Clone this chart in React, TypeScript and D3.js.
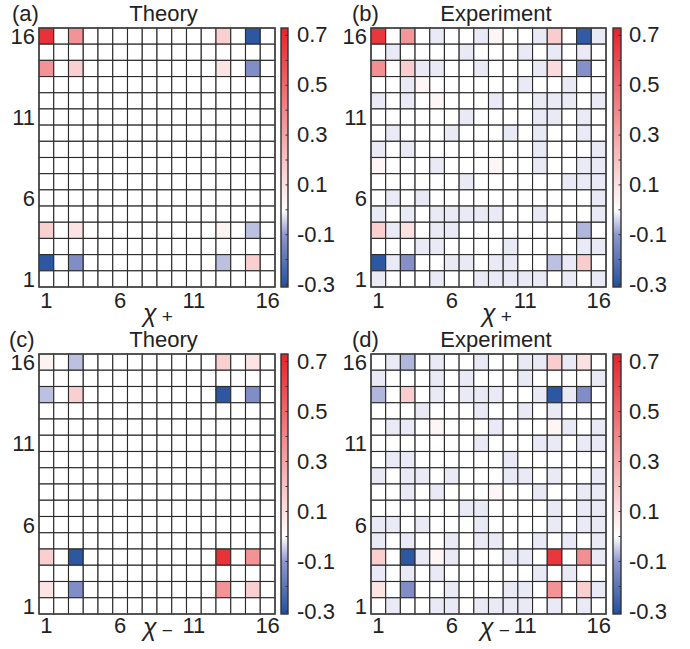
import React from "react";
import * as d3 from "d3";

// tick labels
const axisTicks = [1, 6, 11, 16];
const cbLabels = [0.7, 0.5, 0.3, 0.1, -0.1, -0.3];
const cbMinor = [-3, -2, -1, 0, 1, 2, 3, 4, 5, 6, 7].map((k) => k / 10);

// colour map (value -> colour)
const cbDomain = [-0.31, 0.73];
const colorStops = [-0.31, -0.1, 0, 0.73];
const colorRange = ["#24509e", "#8f97cd", "#ffffff", "#e6232a"];

// theory: [column, row, value], every other cell is 0
const theoryPlus = [
  [1, 16, 0.68], [3, 16, 0.36], [13, 16, 0.16], [15, 16, -0.29],
  [1, 14, 0.36], [3, 14, 0.16], [13, 14, 0.09], [15, 14, -0.13],
  [1, 4, 0.16], [3, 4, 0.09], [13, 4, 0.04], [15, 4, -0.06],
  [1, 2, -0.29], [3, 2, -0.13], [13, 2, -0.06], [15, 2, 0.16],
];

const theoryMinus = [
  [1, 16, 0.04], [3, 16, -0.06], [13, 16, 0.16], [15, 16, 0.09],
  [1, 14, -0.06], [3, 14, 0.16], [13, 14, -0.29], [15, 14, -0.13],
  [1, 4, 0.16], [3, 4, -0.29], [13, 4, 0.68], [15, 4, 0.36],
  [1, 2, 0.09], [3, 2, -0.13], [13, 2, 0.36], [15, 2, 0.16],
];

// experiment: rows from 16 (top) down to 1, columns 1..16
const expPlus = [
  [0.66, 0, 0.35, 0, -0.02, 0, 0, -0.02, 0.03, 0, 0, -0.02, 0.17, 0, -0.28, -0.02],
  [0, -0.02, 0, 0, 0, 0, -0.02, 0, 0, 0, -0.02, 0, -0.02, 0, -0.02, 0],
  [0.37, 0, 0.17, -0.02, -0.02, 0, 0, -0.02, 0, 0, 0, -0.02, 0.12, 0, -0.12, 0],
  [0, 0, -0.02, 0.03, 0, 0, 0, 0, 0, 0, -0.02, 0, 0, -0.02, 0, 0],
  [-0.02, 0, -0.02, 0, 0.03, 0, 0, 0, -0.02, 0, 0, -0.02, -0.02, -0.02, 0, -0.02],
  [0, 0, 0, 0, 0, 0, -0.02, 0, 0, 0, 0, -0.02, -0.02, 0, -0.02, 0],
  [0, -0.02, 0, 0, 0, -0.02, 0, 0, 0, -0.02, 0, -0.02, 0, 0, -0.02, 0],
  [-0.02, 0, -0.02, 0, 0, 0, 0, 0, 0, 0, 0, -0.02, 0, 0, 0, -0.02],
  [0.03, 0, 0, 0, -0.02, 0, 0, 0, 0.03, 0, 0, -0.02, 0, 0, -0.02, -0.02],
  [0, 0, 0, 0, 0, 0, -0.02, 0, 0, 0, 0, 0, 0, -0.02, -0.02, -0.02],
  [0, -0.02, 0, -0.02, 0, 0, 0, 0, 0, 0, 0, 0, 0, 0, 0, -0.02],
  [-0.02, 0, -0.02, 0, -0.02, -0.02, -0.02, -0.02, -0.02, 0, 0, -0.02, 0, 0, 0, -0.02],
  [0.16, -0.02, 0.1, 0, -0.02, -0.02, 0, 0, 0, 0, 0, 0, 0, 0, -0.07, 0],
  [0, 0, 0, -0.02, -0.02, 0, 0, 0, 0, -0.02, 0, 0, 0, 0, -0.02, -0.02],
  [-0.29, -0.02, -0.12, 0, 0, -0.02, -0.02, 0, -0.02, -0.02, 0, 0, -0.06, -0.02, 0.17, 0],
  [-0.02, 0, 0, 0, -0.02, 0, 0, -0.02, -0.02, -0.02, -0.02, -0.02, 0, -0.02, 0, -0.02],
];

const expMinus = [
  [0, -0.02, -0.07, 0, -0.02, 0, 0, -0.02, 0, 0, -0.02, -0.02, 0.17, -0.02, 0.1, 0],
  [-0.02, 0, 0, 0, -0.02, 0, -0.02, 0, 0, 0, -0.02, 0, 0, 0, 0, -0.02],
  [-0.07, 0, 0.17, 0, -0.02, 0, -0.02, -0.02, -0.02, 0, 0, -0.02, -0.29, -0.02, -0.13, 0],
  [0, 0, 0, -0.02, 0, 0, 0, -0.02, 0, 0, -0.02, 0, -0.02, 0, 0, 0],
  [0, -0.02, -0.02, 0, 0.03, 0, 0, 0, -0.02, 0, 0, 0, 0.03, -0.02, 0, -0.02],
  [0, 0, 0, 0, 0, 0, 0, -0.02, 0, 0, 0, -0.02, -0.02, 0, -0.02, -0.02],
  [0, -0.02, -0.02, 0, 0, 0, 0, 0, 0, -0.02, 0, 0, 0, 0, 0, 0],
  [-0.02, 0, -0.02, -0.02, 0, -0.02, 0, 0, 0, -0.02, -0.02, 0, -0.02, 0, 0, -0.02],
  [0, 0, -0.02, 0, -0.02, 0, 0, 0, 0.03, 0, 0, -0.02, 0, 0, -0.02, -0.02],
  [0, 0, 0, 0, 0, 0, -0.02, -0.02, 0, 0, 0, 0, -0.02, 0, -0.02, -0.02],
  [-0.02, -0.02, 0, -0.02, 0, 0, 0, -0.02, 0, 0, 0, 0, -0.02, 0, -0.02, -0.02],
  [-0.02, 0, -0.02, 0, 0, -0.02, 0, -0.02, -0.02, 0, 0, -0.02, 0, -0.02, 0, -0.02],
  [0.16, 0, -0.29, -0.02, 0.03, -0.02, 0, 0, 0, -0.02, -0.02, 0, 0.66, 0, 0.37, -0.02],
  [-0.02, 0, -0.02, 0, -0.02, 0, 0, 0, 0, 0, 0, -0.02, 0, -0.02, 0, 0],
  [0.09, 0, -0.13, 0, 0, -0.02, 0, 0, 0, -0.02, -0.02, 0, 0.36, 0, 0.16, -0.02],
  [0, -0.02, 0, 0, -0.02, -0.02, 0, -0.02, -0.02, -0.02, -0.02, 0, -0.02, 0, -0.02, 0],
];

// sparse theory list -> 16x16 matrix (row 16 first)
function fromEntries(entries: number[][]) {
  const m = d3.range(16).map(() => d3.range(16).map(() => 0));
  entries.forEach(([c, r, v]) => {
    m[16 - r][c - 1] = v;
  });
  return m;
}

const FONT = "'Liberation Sans', Arial, Helvetica, sans-serif";
const FS = 22;

const panels = [
  { id: "a", tag: "(a)", title: "Theory", sub: "+", data: fromEntries(theoryPlus),
    left: 39, right: 275, top: 28, bottom: 287, cbX: 281, cbW: 7,
    tagX: 12, xLabX: 143, xLabY: 322, tickY: 308 },
  { id: "b", tag: "(b)", title: "Experiment", sub: "+", data: expPlus,
    left: 371, right: 606, top: 28, bottom: 287, cbX: 613, cbW: 8,
    tagX: 352, xLabX: 482, xLabY: 322, tickY: 308 },
  { id: "c", tag: "(c)", title: "Theory", sub: "\u2212", data: fromEntries(theoryMinus),
    left: 39, right: 275, top: 354, bottom: 614, cbX: 281, cbW: 7,
    tagX: 9, xLabX: 143, xLabY: 636, tickY: 633 },
  { id: "d", tag: "(d)", title: "Experiment", sub: "\u2212", data: expMinus,
    left: 371, right: 606, top: 354, bottom: 614, cbX: 613, cbW: 8,
    tagX: 352, xLabX: 480, xLabY: 636, tickY: 633 },
];

const color = d3
  .scaleLinear<string>()
  .domain(colorStops)
  .range(colorRange)
  .interpolate(d3.interpolateRgb)
  .clamp(true);

function Panel({ p }: { p: (typeof panels)[number] }) {
  const cols = d3.range(1, 17);
  const rows = d3.range(16, 0, -1);
  const x = d3.scaleBand<number>().domain(cols).range([p.left, p.right]);
  const y = d3.scaleBand<number>().domain(rows).range([p.top, p.bottom]);
  const cb = d3.scaleLinear().domain(cbDomain).range([p.bottom, p.top]);
  const cbRight = p.cbX + p.cbW;
  const span = cbDomain[1] - cbDomain[0];
  const gradId = "grad-" + p.id;

  return (
    <g>
      <defs>
        <linearGradient id={gradId} x1="0" y1="1" x2="0" y2="0">
          {colorStops.map((v, i) => (
            <stop key={i} offset={(v - cbDomain[0]) / span} stopColor={colorRange[i]} />
          ))}
        </linearGradient>
      </defs>

      <text x={p.tagX} y={p.top - 7} fontSize={FS} fill="#222">{p.tag}</text>
      <text x={(p.left + cbRight) / 2} y={p.top - 7} fontSize={FS} fill="#222" textAnchor="middle">
        {p.title}
      </text>

      {p.data.map((row, ri) =>
        row.map((v, ci) => (
          <rect
            key={ri + "-" + ci}
            x={x(cols[ci])}
            y={y(rows[ri])}
            width={x.bandwidth()}
            height={y.bandwidth()}
            fill={color(v)}
            stroke="#2b2b2b"
            strokeWidth={1.1}
          />
        ))
      )}
      <rect x={p.left} y={p.top} width={p.right - p.left} height={p.bottom - p.top}
        fill="none" stroke="#444" strokeWidth={1.5} />

      {axisTicks.map((t) => (
        <text key={"y" + t} x={p.left - 4} y={(y(t) as number) + y.bandwidth() / 2 + 8}
          fontSize={FS} fill="#222" textAnchor="end">{t}</text>
      ))}
      {axisTicks.map((t) => (
        <text key={"x" + t} x={(x(t) as number) + x.bandwidth() / 2} y={p.tickY}
          fontSize={FS} fill="#222" textAnchor="middle">{t}</text>
      ))}
      <text x={p.xLabX} y={p.xLabY} fill="#222">
        <tspan fontSize={25} fontStyle="italic">χ</tspan>
        <tspan fontSize={19} dx={5} dy={1}>{p.sub}</tspan>
      </text>

      <rect x={p.cbX} y={p.top} width={p.cbW} height={p.bottom - p.top} fill={`url(#${gradId})`} />
      {cbMinor.map((v) => (
        <line key={"m" + v} x1={cbRight - 2.5} x2={cbRight} y1={cb(v)} y2={cb(v)} stroke="#333" strokeWidth={1} />
      ))}
      <rect x={p.cbX} y={p.top} width={p.cbW} height={p.bottom - p.top}
        fill="none" stroke="#333" strokeWidth={1.4} />
      {cbLabels.map((v) => (
        <text key={"c" + v} x={p.cbX + 16} y={cb(v) + 7} fontSize={FS} fill="#222">
          {v.toFixed(1)}
        </text>
      ))}
    </g>
  );
}

export default function App() {
  return (
    <svg
      width={690}
      height={649}
      style={{ position: "absolute", left: 0, top: 0, background: "#fff", fontFamily: FONT }}
    >
      <rect width={690} height={649} fill="#fff" />
      {panels.map((p) => (
        <Panel key={p.id} p={p} />
      ))}
    </svg>
  );
}
